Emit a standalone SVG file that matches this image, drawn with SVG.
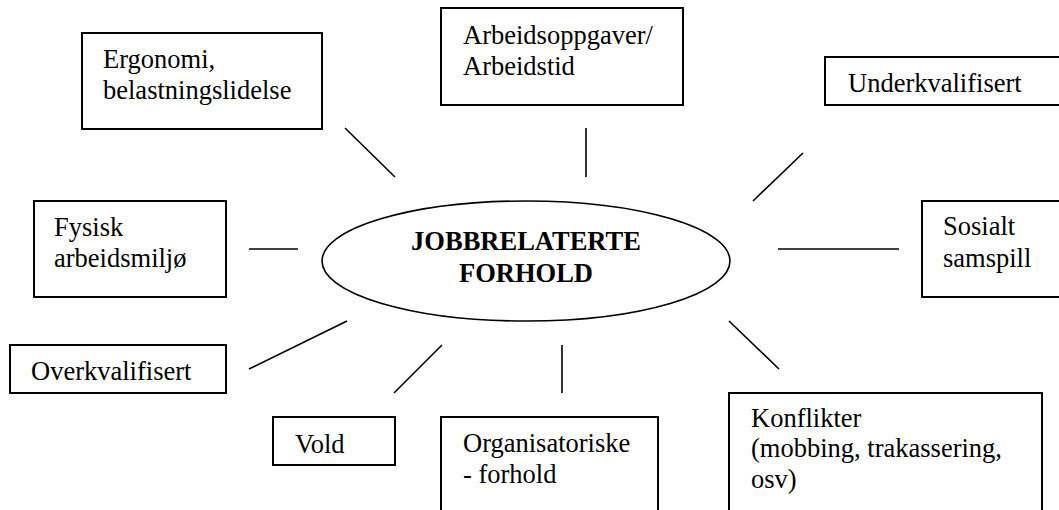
<svg xmlns="http://www.w3.org/2000/svg" width="1059" height="510" viewBox="0 0 1059 510">
<style>
.box{fill:#fff;stroke:#000;stroke-width:2}
.t{font-family:"Liberation Serif","Times New Roman",serif;font-size:26.5px;fill:#000}
.b{font-weight:bold;text-anchor:middle}
.c line{stroke:#000;stroke-width:1.6}
</style>
<rect width="1059" height="510" fill="#fff"/>
<g id="center">
<ellipse cx="526" cy="261" rx="204" ry="60" fill="#fff" stroke="#000" stroke-width="1.6"/>
<text class="t b" x="526" y="250">JOBBRELATERTE</text>
<text class="t b" x="526" y="282">FORHOLD</text>
</g>
<g id="ergonomi">
<rect class="box" x="82" y="33" width="240" height="96"/>
<text class="t" x="103" y="68">Ergonomi,</text>
<text class="t" x="103" y="99">belastningslidelse</text>
</g>
<g id="arbeidsoppgaver">
<rect class="box" x="441" y="8" width="242" height="97"/>
<text class="t" x="463" y="44">Arbeidsoppgaver/</text>
<text class="t" x="463" y="75">Arbeidstid</text>
</g>
<g id="underkvalifisert">
<rect class="box" x="825" y="57" width="250" height="48"/>
<text class="t" x="848" y="92">Underkvalifisert</text>
</g>
<g id="fysisk">
<rect class="box" x="34" y="201" width="192" height="96"/>
<text class="t" x="54" y="236">Fysisk</text>
<text class="t" x="54" y="267">arbeidsmiljø</text>
</g>
<g id="sosialt">
<rect class="box" x="922" y="201" width="150" height="96"/>
<text class="t" x="943" y="235">Sosialt</text>
<text class="t" x="943" y="267">samspill</text>
</g>
<g id="overkvalifisert">
<rect class="box" x="10" y="345" width="216" height="48"/>
<text class="t" x="31" y="380">Overkvalifisert</text>
</g>
<g id="vold">
<rect class="box" x="273" y="417" width="122" height="48"/>
<text class="t" x="295" y="453">Vold</text>
</g>
<g id="organisatoriske">
<rect class="box" x="441" y="417" width="217" height="110"/>
<text class="t" x="463" y="452">Organisatoriske</text>
<text class="t" x="463" y="483">- forhold</text>
</g>
<g id="konflikter">
<rect class="box" x="729" y="393" width="313" height="130"/>
<text class="t" x="751" y="427">Konflikter</text>
<text class="t" x="751" y="457">(mobbing, trakassering,</text>
<text class="t" x="751" y="488">osv)</text>
</g>
<g id="connectors" class="c">
<line x1="345" y1="128" x2="395" y2="177"/>
<line x1="586" y1="128" x2="586" y2="177"/>
<line x1="803" y1="153" x2="753" y2="201"/>
<line x1="249" y1="249" x2="298" y2="249"/>
<line x1="778" y1="249" x2="899" y2="249"/>
<line x1="249" y1="369" x2="347" y2="321"/>
<line x1="442" y1="345" x2="394" y2="393"/>
<line x1="562" y1="345" x2="562" y2="393"/>
<line x1="729" y1="321" x2="779" y2="369"/>
</g>
</svg>
